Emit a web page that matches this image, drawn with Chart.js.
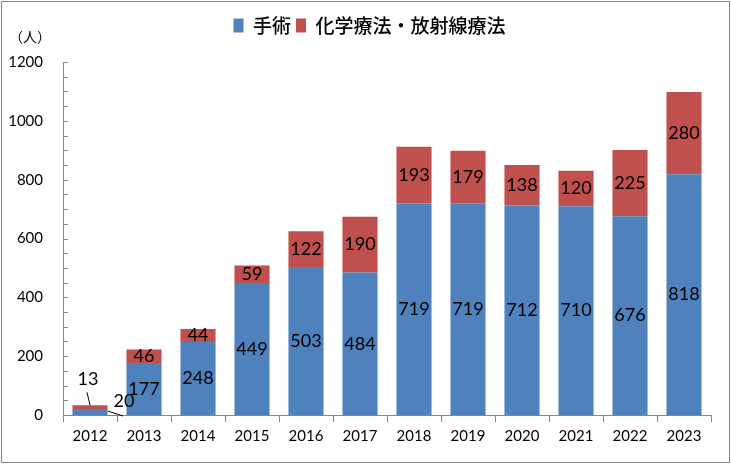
<!DOCTYPE html>
<html lang="ja">
<head>
<meta charset="UTF-8">
<title>手術・化学療法・放射線療法</title>
<script src="https://cdn.jsdelivr.net/npm/chart.js@4.4.1/dist/chart.umd.min.js"></script>
<style>
  html, body { margin: 0; padding: 0; background: #fff; }
  #wrap { width: 731px; height: 464px; position: relative; }
</style>
</head>
<body>
<div id="wrap"><canvas id="myChart"></canvas></div>
<script>
// data
const years = ['2012', '2013', '2014', '2015', '2016', '2017', '2018', '2019', '2020', '2021', '2022', '2023'];
const surgery = [20, 177, 248, 449, 503, 484, 719, 719, 712, 710, 676, 818];
const chemoRadio = [13, 46, 44, 59, 122, 190, 193, 179, 138, 120, 225, 280];
const seriesNames = ['手術', '化学療法・放射線療法'];
const yMax = 1200;
const yStep = 200;
const yMinorStep = 50;
const unitLabel = '（人）';

const axisColor = '#868686';
const numFont = 'Lato, "Liberation Sans", sans-serif';
const jpFont = '"Noto Sans CJK JP", "Noto Sans", sans-serif';

// legend height fixed so the plot starts where it does in the picture
const legendHeight = {
    id: 'legendHeight',
    afterInit(chart) {
        const lg = chart.legend;
        const fit = lg.fit;
        lg.fit = function () {
            fit.call(this);
            this.height = 51;
        };
    },
    afterLayout(chart) {
        // centre the legend on the whole frame, not on the padded box
        chart.legend.left += 14;
        chart.legend.right += 14;
    }
};

// frame, unit label and the small inside ticks on the y axis
const decorations = {
    id: 'decorations',
    afterDraw(chart) {
        const ctx = chart.ctx;
        const y = chart.scales.y;
        ctx.save();
        ctx.strokeStyle = axisColor;
        ctx.lineWidth = 1;
        ctx.strokeRect(1.5, 1.5, chart.width - 3, chart.height - 3);

        ctx.beginPath();
        for (let v = 0; v <= yMax; v += yMinorStep) {
            const py = Math.round(y.getPixelForValue(v)) + 0.5;
            ctx.moveTo(y.right, py);
            ctx.lineTo(y.right + 5, py);
        }
        ctx.stroke();

        ctx.fillStyle = '#000';
        ctx.font = '14px ' + jpFont;
        ctx.textAlign = 'center';
        ctx.textBaseline = 'middle';
        ctx.fillText(unitLabel, 30, 37);
        ctx.restore();
    }
};

// numbers inside the bars; the 2012 ones sit outside with a leader line
const valueLabels = {
    id: 'valueLabels',
    afterDatasetsDraw(chart) {
        const ctx = chart.ctx;
        ctx.save();
        ctx.font = '18px ' + numFont;
        ctx.fillStyle = '#000';
        ctx.strokeStyle = '#000';
        ctx.lineWidth = 1;
        ctx.textAlign = 'center';
        ctx.textBaseline = 'middle';
        chart.data.datasets.forEach((ds, di) => {
            chart.getDatasetMeta(di).data.forEach((bar, i) => {
                const p = bar.getProps(['x', 'y', 'base'], true);
                const mid = (p.y + p.base) / 2;
                let lx = p.x, ly = mid;
                if (i === 0) {
                    ctx.beginPath();
                    if (di === 0) {
                        lx = p.x + 34; ly = mid - 11;
                        ctx.moveTo(p.x + 18, mid - 1);
                        ctx.lineTo(p.x + 33, mid + 4);
                    } else {
                        lx = p.x - 2; ly = p.y - 26;
                        ctx.moveTo(p.x - 3, p.y - 13);
                        ctx.lineTo(p.x, p.y);
                    }
                    ctx.stroke();
                }
                ctx.fillText(ds.data[i], lx, ly);
            });
        });
        ctx.restore();
    }
};

new Chart(document.getElementById('myChart'), {
    type: 'bar',
    data: {
        labels: years,
        datasets: [
            { label: seriesNames[0], data: surgery, backgroundColor: '#4F81BD' },
            { label: seriesNames[1], data: chemoRadio, backgroundColor: '#C0504D' }
        ]
    },
    options: {
        responsive: true,
        maintainAspectRatio: false,
        animation: false,
        devicePixelRatio: 1,
        layout: { padding: { top: 11, right: 20, bottom: 0, left: 0 } },
        datasets: { bar: { categoryPercentage: 1, barPercentage: 0.65 } },
        plugins: {
            legend: {
                position: 'top',
                labels: {
                    boxWidth: 10,
                    boxHeight: 14,
                    padding: 5,
                    color: '#000',
                    font: { family: jpFont, size: 19, weight: '500' }
                }
            },
            tooltip: { enabled: false }
        },
        scales: {
            x: {
                stacked: true,
                grid: { display: true, drawOnChartArea: false, offset: true, tickLength: 7, color: axisColor },
                border: { color: axisColor },
                ticks: { color: '#000', padding: 5, font: { family: numFont, size: 15 } },
                afterFit(s) { s.height = 49; }
            },
            y: {
                stacked: true,
                min: 0,
                max: yMax,
                grid: { display: false },
                border: { display: true, color: axisColor },
                ticks: {
                    stepSize: yStep,
                    color: '#000',
                    padding: 12,
                    font: { family: numFont, size: 15 },
                    callback: v => String(v)
                },
                afterFit(s) { s.width = 63; }
            }
        }
    },
    plugins: [legendHeight, decorations, valueLabels]
});
</script>
</body>
</html>
